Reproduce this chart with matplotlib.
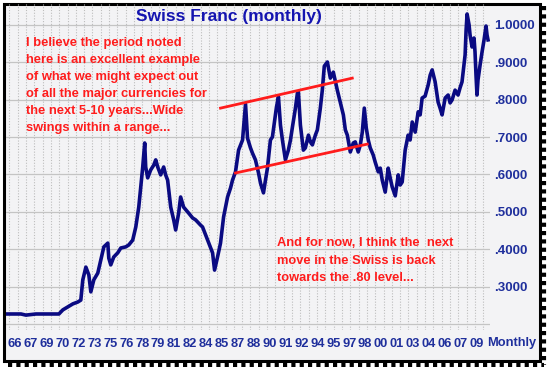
import numpy as np
import matplotlib
matplotlib.use("Agg")
import matplotlib.pyplot as plt
from matplotlib.lines import Line2D
from matplotlib.patches import Rectangle
from matplotlib.ticker import FixedLocator
from matplotlib import font_manager

# monthly CHF/USD
years = [1966.25, 1967.61, 1968.06, 1968.97, 1971.05, 1971.41, 1971.87, 1972.32,
         1972.77, 1973.04, 1973.22, 1973.50, 1973.77, 1973.95, 1974.22, 1974.58,
         1974.86, 1975.13, 1975.49, 1975.58, 1975.76, 1976.03, 1976.39, 1976.67,
         1977.12, 1977.39, 1977.75, 1978.03, 1978.30, 1978.48, 1978.66, 1978.84,
         1978.93, 1979.11, 1979.38, 1979.66, 1979.84, 1980.02, 1980.29, 1980.56,
         1980.74, 1980.92, 1981.20, 1981.47, 1981.65, 1981.92, 1982.10, 1982.37,
         1982.83, 1983.19, 1983.46, 1983.91, 1984.09, 1984.55, 1984.82, 1985.00,
         1985.18, 1985.45, 1985.72, 1986.00, 1986.36, 1986.63, 1986.81, 1987.08,
         1987.36, 1987.72, 1987.81, 1987.99, 1988.17, 1988.44, 1988.62, 1988.89,
         1989.17, 1989.35, 1989.62, 1989.80, 1989.98, 1990.25, 1990.43, 1990.80,
         1990.98, 1991.16, 1991.34, 1991.61, 1991.88, 1992.07, 1992.25, 1992.52,
         1992.70, 1992.79, 1992.97, 1993.24, 1993.42, 1993.70, 1993.88, 1994.06,
         1994.33, 1994.51, 1994.78, 1994.96, 1995.14, 1995.42, 1995.69, 1995.96,
         1996.32, 1996.59, 1996.87, 1997.05, 1997.23, 1997.50, 1997.77, 1997.95,
         1998.22, 1998.41, 1998.59, 1998.77, 1998.95, 1999.13, 1999.31, 1999.58,
         1999.76, 2000.04, 2000.22, 2000.40, 2000.67, 2000.94, 2001.12, 2001.30,
         2001.58, 2001.85, 2002.03, 2002.21, 2002.48, 2002.75, 2002.93, 2003.12,
         2003.39, 2003.66, 2003.84, 2004.02, 2004.29, 2004.57, 2004.75, 2004.93,
         2005.20, 2005.47, 2005.65, 2005.83, 2006.11, 2006.38, 2006.56, 2006.74,
         2007.01, 2007.28, 2007.46, 2007.64, 2007.92, 2008.01, 2008.10, 2008.28,
         2008.37, 2008.55, 2008.73, 2008.82, 2008.91, 2009.00, 2009.09, 2009.28,
         2009.46, 2009.64, 2009.82, 2009.91, 2010.00]
chf = [0.228, 0.228, 0.225, 0.228, 0.228, 0.239, 0.247, 0.255,
       0.260, 0.265, 0.319, 0.353, 0.332, 0.287, 0.319, 0.337,
       0.372, 0.407, 0.417, 0.377, 0.359, 0.380, 0.391, 0.404,
       0.407, 0.412, 0.425, 0.460, 0.513, 0.567, 0.620, 0.684,
       0.620, 0.591, 0.612, 0.625, 0.639, 0.620, 0.599, 0.620,
       0.599, 0.585, 0.513, 0.479, 0.452, 0.497, 0.540, 0.513,
       0.497, 0.484, 0.479, 0.465, 0.460, 0.425, 0.404, 0.391,
       0.345, 0.380, 0.417, 0.487, 0.540, 0.564, 0.585, 0.607,
       0.665, 0.692, 0.724, 0.788, 0.697, 0.671, 0.657, 0.639,
       0.604, 0.577, 0.551, 0.585, 0.617, 0.692, 0.700, 0.780,
       0.807, 0.732, 0.692, 0.639, 0.665, 0.692, 0.727, 0.777,
       0.817, 0.820, 0.732, 0.665, 0.671, 0.705, 0.687, 0.679,
       0.705, 0.719, 0.777, 0.825, 0.889, 0.900, 0.857, 0.873,
       0.825, 0.793, 0.759, 0.719, 0.705, 0.660, 0.684, 0.687,
       0.660, 0.679, 0.713, 0.777, 0.724, 0.692, 0.671, 0.652,
       0.633, 0.607, 0.617, 0.585, 0.553, 0.617, 0.591, 0.567,
       0.543, 0.599, 0.572, 0.580, 0.665, 0.705, 0.692, 0.740,
       0.713, 0.767, 0.759, 0.804, 0.809, 0.839, 0.865, 0.879,
       0.847, 0.793, 0.777, 0.759, 0.804, 0.812, 0.791, 0.799,
       0.825, 0.812, 0.831, 0.847, 0.919, 0.985, 1.028, 0.999,
       0.972, 0.940, 0.964, 0.927, 0.865, 0.812, 0.852, 0.892,
       0.927, 0.959, 0.996, 0.972, 0.959]

# hand-drawn channel lines
upper_x = [1985.72, 1997.68]
upper_y = [0.777, 0.857]
lower_x = [1987.08, 1999.04]
lower_y = [0.604, 0.681]

x_labels = ["66", "67", "69", "70", "72", "73", "75", "76", "78", "79",
            "81", "82", "84", "85", "87", "88", "90", "91", "92", "94",
            "95", "97", "98", "00", "01", "03", "04", "06", "07", "09"]
y_levels = [0.2, 0.3, 0.4, 0.5, 0.6, 0.7, 0.8, 0.9, 1.0]

note_left = ["I believe the period noted",
             "here is an excellent example",
             "of what we might expect out",
             "of all the major currencies for",
             "the next 5-10 years...Wide",
             "swings within a range..."]
note_right = ["And for now, I think the  next",
              "move in the Swiss is back",
              "towards the .80 level..."]

W, H = 548, 367
NAVY = "#0a0a82"
BLUE = "#1f2f9c"
RED = "#ff1c1c"
SANS = "Liberation Sans"

installed = {f.name for f in font_manager.fontManager.ttflist}
NARROW = "Liberation Sans Narrow" if "Liberation Sans Narrow" in installed else SANS


def fx(x):
    return x / W


def fy(y):
    return 1 - y / H


fig = plt.figure(figsize=(W / 100, H / 100), dpi=100)
fig.patch.set_facecolor("white")

# framed panel with dotted drop shadow
fig.add_artist(Rectangle((fx(4), fy(361)), fx(536), 357 / H, transform=fig.transFigure,
                         facecolor="#f3f3f5", edgecolor="black", lw=2.2, zorder=0))
fig.add_artist(Line2D([fx(544), fx(544)], [fy(6), fy(365)], transform=fig.transFigure,
                      color="black", lw=3, ls=(0, (1, 1))))
fig.add_artist(Line2D([fx(8), fx(544)], [fy(365), fy(365)], transform=fig.transFigure,
                      color="black", lw=3, ls=(0, (1, 1))))

ax = fig.add_axes([fx(6), fy(330), fx(484), 326 / H])
ax.set_facecolor("none")
ax.set_xlim(1966.25, 2010.18)
ax.set_ylim(0.1853, 1.0547)
for s in ax.spines.values():
    s.set_visible(False)

# grid
ax.set_yticks(y_levels)
ax.set_yticklabels(["" if v < 0.25 else ("%.4f" % v).lstrip("0") for v in y_levels],
                   family=SANS, fontweight="bold", fontsize=9.5, color=BLUE)
ax.yaxis.tick_right()
ax.tick_params(axis="y", length=0, pad=3)
ax.grid(axis="y", which="major", color="#c4c4c4", lw=0.9)

ax.xaxis.set_minor_locator(FixedLocator(np.arange(1966.55, 2010.2, 0.7548)))
ax.grid(axis="x", which="minor", color="#bdbdbd", lw=0.8, ls=(0, (1, 1.5)))
ax.tick_params(axis="x", which="minor", length=0)

tick_pos = np.linspace(1967.04, 2008.97, len(x_labels))
ax.set_xticks(tick_pos)
ax.set_xticklabels(x_labels, family=NARROW, fontweight="bold",
                   fontsize=10 if NARROW != SANS else 9.3, color=BLUE)
ax.tick_params(axis="x", which="major", length=0, pad=6)

ax.plot(years, chf, color=NAVY, lw=2.6, solid_joinstyle="round", zorder=3)
ax.plot(upper_x, upper_y, color=RED, lw=2, zorder=4)
ax.plot(lower_x, lower_y, color=RED, lw=2, zorder=4)

fig.text(fx(487), fy(343), "Monthly", ha="left", va="center", fontsize=9.3,
         fontweight="bold", color=BLUE, family=SANS)
fig.text(fx(229), fy(17), "Swiss Franc (monthly)", ha="center", va="center",
         fontsize=12.5, fontweight="bold", color="#1414b0", family=SANS)

for i, line in enumerate(note_left):
    fig.text(fx(26), fy(43 + 17 * i), line, ha="left", va="center", fontsize=9.3,
             fontweight="bold", color=RED, family=SANS)
for i, line in enumerate(note_right):
    fig.text(fx(277), fy(243 + 17.5 * i), line, ha="left", va="center", fontsize=9.3,
             fontweight="bold", color=RED, family=SANS)

fig.savefig("out.png", dpi=100, facecolor=fig.get_facecolor())
